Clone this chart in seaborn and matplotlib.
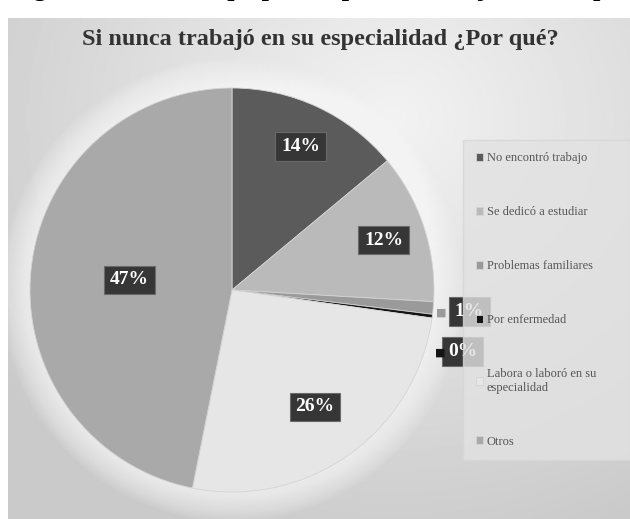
import numpy as np
import matplotlib
matplotlib.use("Agg")
import matplotlib.pyplot as plt
from matplotlib.patches import Circle
import seaborn as sns

# ---- data ----
categories = ["No encontró trabajo", "Se dedicó a estudiar", "Problemas familiares",
              "Por enfermedad", "Labora o laboró en su\nespecialidad", "Otros"]
values = [14, 12, 1, 0.3, 26, 47]
pct_labels = ["14%", "12%", "1%", "0%", "26%", "47%"]
colors = ["#5b5b5b", "#bababa", "#9a9a9a", "#141414", "#e6e6e6", "#a9a9a9"]

title = "Si nunca trabajó en su especialidad ¿Por qué?"
caption = "Figura N° 11: Tiempo por lo que no trabaja en su especialidad"

sns.set_theme(style="white")
plt.rcParams['font.family'] = ['Liberation Serif', 'DejaVu Serif']

W, H = 630, 519
fig = plt.figure(figsize=(W / 100, H / 100), dpi=100)
fig.patch.set_facecolor("white")


def fx(px):
    return px / W


def fy(py):
    return 1 - py / H


# background panel with soft gradient
bg = fig.add_axes([fx(8), 0, 1 - fx(8), fy(18)])
yy, xx = np.mgrid[0:1:300j, 0:1:360j]
d = np.sqrt(((xx - 0.62) / 0.8) ** 2 + ((yy - 0.2) / 0.9) ** 2)
img = 0.95 - 0.16 * np.clip(d, 0, 1)
bg.imshow(img, cmap="gray", vmin=0, vmax=1, extent=[0, 1, 0, 1],
          origin="upper", aspect="auto")
bg.axis("off")

# caption (cut at top, as in the scan)
fig.text(fx(10), fy(-4), caption, fontsize=19, fontweight="bold",
         va="baseline", ha="left", color="black")

# chart title
fig.text(fx(320), fy(40), title, ha="center", va="center", fontsize=17.5,
         fontweight="bold", color="#333333")

# pie
r_px = 202
cx, cy = 232, 290
ax = fig.add_axes([fx(cx - r_px), fy(cy + r_px), 2 * r_px / W, 2 * r_px / H])

wedges, _ = ax.pie(values, colors=colors, startangle=90, counterclock=False,
                   radius=1, wedgeprops=dict(edgecolor="#d4d4d4", linewidth=0.6))
ax.set_xlim(-1, 1)
ax.set_ylim(-1, 1)
ax.axis("off")
for w in wedges:
    w.set_zorder(2)

for i in range(12):
    ax.add_patch(Circle((0, 0), 1.0 + 0.012 * (i + 1), color="white",
                        alpha=0.08, zorder=0, clip_on=False, lw=0))

dists = [0.77, 0.79, 1.18, 1.18, 0.71, 0.51]
offsets = [(2, 2), (0, 0), (0, 0), (-4, -22), (0, 0), (0, 0)]
key_off = [None, None, -20, -16, None, None]
for i, (w, lbl) in enumerate(zip(wedges, pct_labels)):
    th = np.deg2rad((w.theta1 + w.theta2) / 2)
    pos = (dists[i] * np.cos(th), dists[i] * np.sin(th))
    ax.annotate(lbl, xy=pos, xytext=offsets[i], textcoords="offset points",
                ha="center", va="center", fontsize=14, fontweight="bold",
                color="white", zorder=5, annotation_clip=False,
                bbox=dict(boxstyle="square,pad=0.3", fc="#363636", ec="#6a6a6a", lw=0.8))
    if key_off[i] is not None:
        ax.annotate("■", xy=pos,
                    xytext=(offsets[i][0] + key_off[i], offsets[i][1] - 1),
                    textcoords="offset points", ha="center", va="center",
                    fontsize=8, color=colors[i], family="DejaVu Sans",
                    zorder=5, annotation_clip=False)

# legend
leg = fig.legend(wedges, categories, loc="upper left",
                 bbox_to_anchor=(fx(463), fy(480), 1 - fx(463), fy(140) - fy(480)),
                 mode="expand", frameon=True, fontsize=9, labelspacing=3.35,
                 handlelength=0.6, handleheight=0.6, handletextpad=0.3,
                 borderpad=1.0, borderaxespad=0, fancybox=False)
leg.get_frame().set_facecolor("#e2e2e2")
leg.get_frame().set_edgecolor("#d6d6d6")
for t in leg.get_texts():
    t.set_color("#555555")

fig.savefig("out.png", dpi=100)
